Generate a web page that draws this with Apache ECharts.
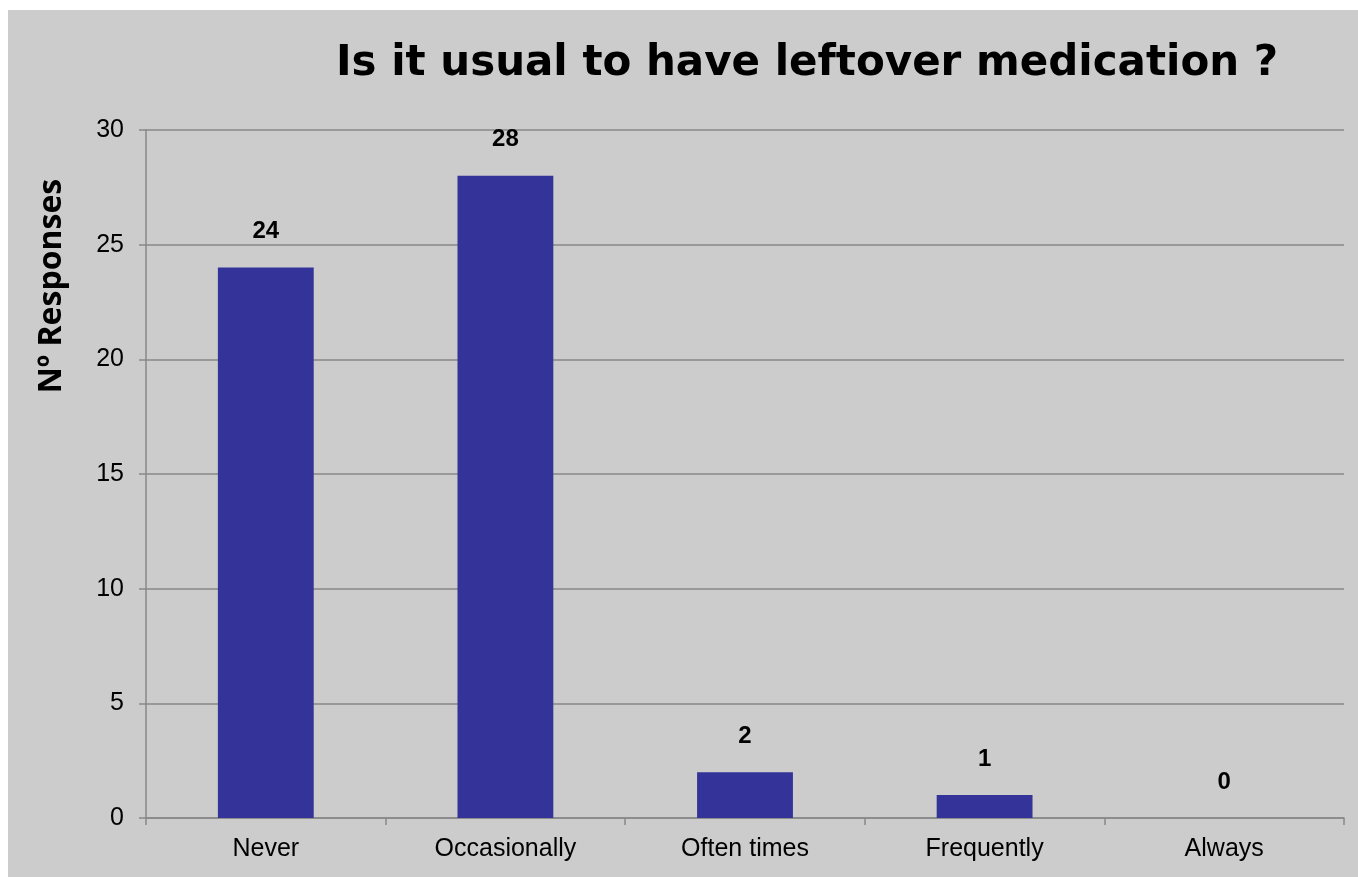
<!DOCTYPE html>
<html><head><meta charset="utf-8">
<script src="https://cdn.jsdelivr.net/npm/echarts@6/dist/echarts.min.js"></script>
<style>html,body{margin:0;padding:0;background:#fff}#c{width:1358px;height:877px}</style>
</head><body><div id="c"></div>
<script>
const categories = ['Never', 'Occasionally', 'Often times', 'Frequently', 'Always'];
const responses = [24, 28, 2, 1, 0];
const yTicks = [0, 5, 10, 15, 20, 25, 30];
const titleText = 'Is it usual to have leftover medication ?';
const yAxisName = 'Nº Responses';

const chart = echarts.init(document.getElementById('c'), null, {renderer: 'canvas'});
chart.setOption({
  animation: false,
  backgroundColor: '#ffffff',
  graphic: [
    {type: 'rect', z: -10, shape: {x: 8, y: 10, width: 1350, height: 867}, style: {fill: '#cccccc'}},
    {type: 'text', x: 52, y: 286, rotation: Math.PI / 2,
     style: {text: yAxisName, align: 'center', verticalAlign: 'middle',
             font: 'bold 32px "Open Sans"', fill: '#000'}}
  ],
  title: {
    text: titleText, left: 802, textAlign: 'center', top: 38,
    textStyle: {fontFamily: '"DejaVu Sans"', fontWeight: 'bold', fontSize: 42, color: '#000'}
  },
  grid: {left: 146, right: 14, top: 130, bottom: 59},
  xAxis: {
    type: 'category', data: categories,
    axisLine: {lineStyle: {color: '#888888', width: 1.5}},
    axisTick: {show: true, alignWithLabel: false, length: 7, lineStyle: {color: '#888888', width: 1.5}},
    axisLabel: {fontFamily: '"Liberation Sans", Arial', fontSize: 25, color: '#000', margin: 19}
  },
  yAxis: {
    type: 'value', min: yTicks[0], max: yTicks[yTicks.length - 1], interval: 5,
    axisLine: {show: true, lineStyle: {color: '#888888', width: 1.5}},
    axisTick: {show: true, length: 7, lineStyle: {color: '#888888', width: 1.5}},
    axisLabel: {fontFamily: '"Liberation Sans", Arial', fontSize: 25, color: '#000', margin: 22},
    splitLine: {lineStyle: {color: '#888888', width: 1.5}}
  },
  series: [{
    type: 'bar', data: responses, barWidth: '40%',
    itemStyle: {color: '#333399'},
    label: {show: true, position: 'top', distance: 24, fontFamily: '"Liberation Sans", Arial', fontWeight: 'bold', fontSize: 24, color: '#000'}
  }]
});
</script></body></html>
